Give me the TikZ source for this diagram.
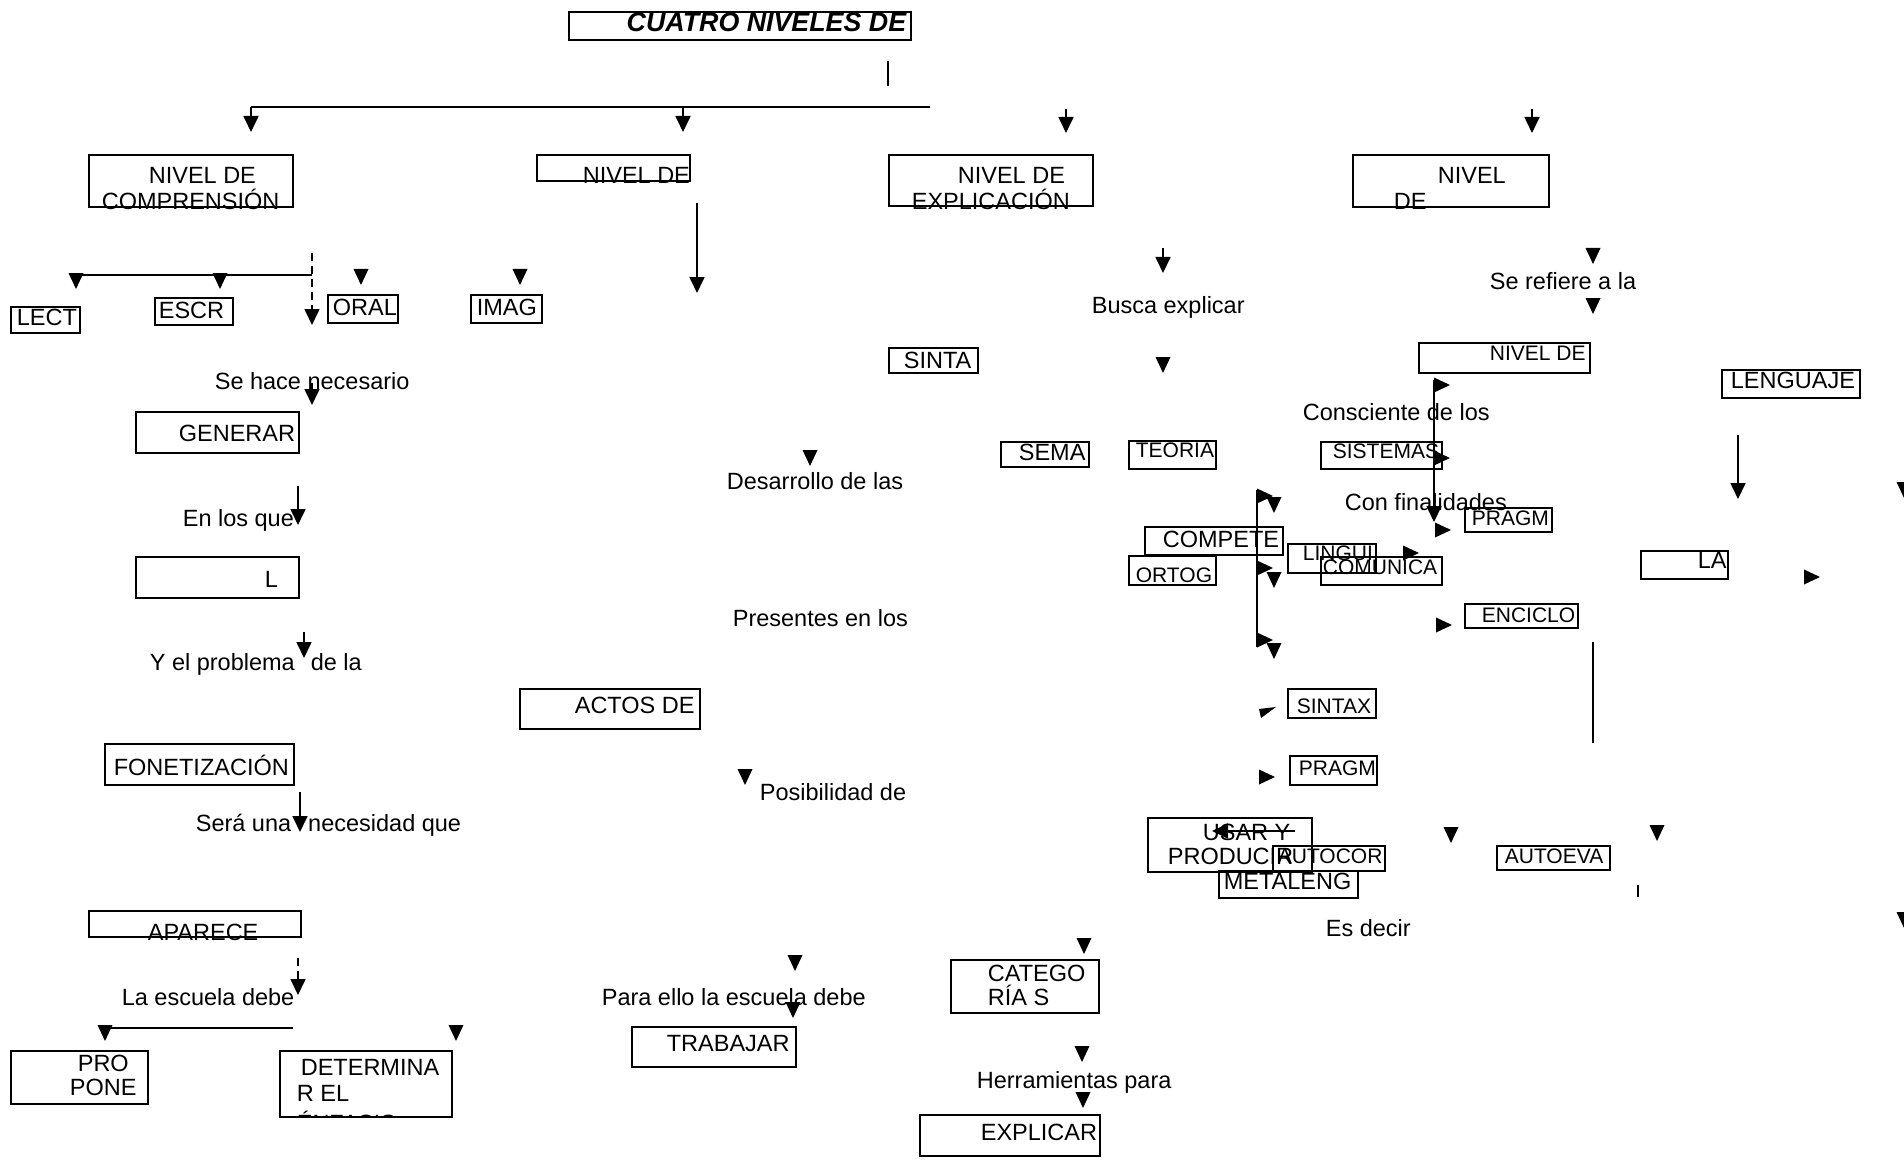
\documentclass[tikz,border=0pt]{standalone}
\usepackage{fontspec}
\setmainfont{Liberation Sans}
\usetikzlibrary{arrows.meta,fit}
\begin{document}
\begin{tikzpicture}[x=1pt,y=-1pt, line width=1.7pt,
 >={Triangle[width=15pt,length=16pt]},
 bx/.style={draw, line width=1.9pt, inner sep=0pt},
 tL/.style={inner sep=0pt, anchor=base west, font=\fontsize{23.5}{26}\selectfont},
 tS/.style={inner sep=0pt, anchor=base west, font=\fontsize{21}{24}\selectfont},
 tridown/.pic={\fill (-7.5,0) -- (7.5,0) -- (0,16) -- cycle;},
 triright/.pic={\fill (0,-7.5) -- (0,7.5) -- (16,0) -- cycle;},
 dsh/.style={dash pattern=on 8pt off 5pt}]
\useasboundingbox (0,0) rectangle (1904,1161);

% ---------- boxes ----------
\node[bx, fit={(569,12) (911,40)}] (title) {};
\node[bx, fit={(89,155) (293,207)}] (bComp) {};
\node[bx, fit={(537,155) (690,181)}] (bN2) {};
\node[bx, fit={(889,155) (1093,206)}] (bExp) {};
\node[bx, fit={(1353,155) (1549,207)}] (bN4) {};
\node[bx, fit={(11,307) (80,333)}] (bLect) {};
\node[bx, fit={(155,298) (233,325)}] (bEscr) {};
\node[bx, fit={(328,295) (398,323)}] (bOral) {};
\node[bx, fit={(471,295) (542,323)}] (bImag) {};
\node[bx, fit={(889,348) (978,373)}] (bSinta) {};
\node[bx, fit={(136,412) (299,453)}] (bGen) {};
\node[bx, fit={(136,557) (299,598)}] (bL) {};
\node[bx, fit={(520,689) (700,729)}] (bActos) {};
\node[bx, fit={(105,744) (294,785)}] (bFon) {};
\node[bx, fit={(89,911) (301,937)}] (bApa) {};
\node[bx, fit={(11,1051) (148,1104)}] (bPro) {};
\node[bx, fit={(280,1051) (452,1117)}] (bDet) {};
\node[bx, fit={(632,1027) (796,1067)}] (bTrab) {};
\node[bx, fit={(1419,343) (1590,373)}] (bNivR) {};
\node[bx, fit={(1722,370) (1860,398)}] (bLeng) {};
\node[bx, fit={(1641,551) (1728,579)}] (bLa) {};
\node[bx, fit={(1001,442) (1089,467)}] (bSema) {};
\node[bx, fit={(1129,441) (1216,469)}] (bTeor) {};
\node[bx, fit={(1321,442) (1442,469)}] (bSist) {};
\node[bx, fit={(1465,508) (1552,532)}] (bPrag1) {};
\node[bx, fit={(1145,527) (1283,555)}] (bComp2) {};
\node[bx, fit={(1129,556) (1216,585)}] (bOrt) {};
\node[bx, fit={(1288,544) (1376,573)}] (bLing) {};
\node[bx, fit={(1321,557) (1442,585)}] (bComu) {};
\node[bx, fit={(1465,604) (1578,628)}] (bEnc) {};
\node[bx, fit={(1288,689) (1376,718)}] (bSintax) {};
\node[bx, fit={(1290,756) (1377,785)}] (bPrag2) {};
\node[bx, fit={(1148,818) (1312,872)}] (bUsar) {};
\node[bx, fit={(1273,846) (1385,871)}] (bAuto) {};
\node[bx, fit={(1219,871) (1358,898)}] (bMeta) {};
\node[bx, fit={(1497,846) (1610,870)}] (bAutoe) {};
\node[bx, fit={(951,960) (1099,1013)}] (bCat) {};
\node[bx, fit={(920,1115) (1100,1156)}] (bExpl) {};

% ---------- texts ----------
\node[inner sep=0pt, anchor=base east, font=\fontsize{26.8}{29}\selectfont\bfseries\itshape] (tTitle) at (907,32) {CUATRO NIVELES DE};
\node[tL] (t1) at (148,184) {NIVEL DE};
\node[tL] (t2) at (101,210) {COMPRENSIÓN};
\node[tL] (t3) at (582,184) {NIVEL DE};
\node[tL] (t4) at (957,184) {NIVEL DE};
\node[tL] (t5) at (911,210) {EXPLICACIÓN};
\node[tL] (t6) at (1437,184) {NIVEL};
\node[tL] (t7) at (1393,210) {DE};
\node[tL] (t8) at (16,325) {LECT};
\node[tL] (t9) at (158,318) {ESCR};
\node[tL] (t10) at (332,315) {ORAL};
\node[tL] (t11) at (476,315) {IMAG};
\node[tL] (t12) at (903,368) {SINTA};
\node[tL] (t13) at (214,389) {Se hace necesario};
\node[tL] (t14) at (178,441) {GENERAR};
\node[tL] (t15) at (182,526) {En los que};
\node[tL] (t16) at (264,587) {L};
\node[tL] (t17) at (149,670) {Y el problema\hspace{16pt}de la};
\node[tL] (t18) at (574,713) {ACTOS DE};
\node[tL] (t19) at (113,775) {FONETIZACIÓN};
\node[tL] (t20) at (195,831) {Será una\hspace{17pt}necesidad que};
\node[tL] (t21) at (147,940) {APARECE};
\node[tL] (t22) at (121,1005) {La escuela debe};
\node[tL] (t23) at (77,1071) {PRO};
\node[tL] (t24) at (69,1095) {PONE};
\node[tL] (t25) at (300,1075) {DETERMINA};
\node[tL] (t26) at (296,1101) {R EL};
\begin{scope}
\clip (280,1051) rectangle (452,1117);
\node[tL] (t27) at (296,1131) {ÉNFASIS};
\end{scope}
\node[tL] (t28) at (726,489) {Desarrollo de las};
\node[tL] (t29) at (732,626) {Presentes en los};
\node[tL] (t30) at (759,800) {Posibilidad de};
\node[tL] (t31) at (601,1005) {Para ello la escuela debe};
\node[tL] (t32) at (666,1051) {TRABAJAR};
\node[tL] (t33) at (1091,313) {Busca explicar};
\node[tL] (t34) at (1489,289) {Se refiere a la};
\node[tL] (t35) at (1730,388) {LENGUAJE};
\node[tL] (t36) at (1697,568) {LA};
\node[tL] (t37) at (1302,420) {Consciente de los};
\node[tL] (t38) at (1018,460) {SEMA};
\node[tL] (t39) at (1344,510) {Con finalidades};
\node[tL] (t40) at (1162,547) {COMPETE};
\node[tL] (t41) at (1202,840) {USAR Y};
\node[tL] (t42) at (1167,864) {PRODUCIR};
\node[tL] (t43) at (1223,889) {METALENG};
\node[tL] (t44) at (1325,936) {Es decir};
\node[tL] (t45) at (987,981) {CATEGO};
\node[tL] (t46) at (987,1005) {RÍA S};
\node[tL] (t47) at (976,1088) {Herramientas para};
\node[tL] (t48) at (980,1140) {EXPLICAR};
\node[tS] (s1) at (1489,360) {NIVEL DE};
\node[tS] (s2) at (1135,457) {TEORIA};
\node[tS] (s3) at (1332,458) {SISTEMAS};
\node[tS] (s4) at (1471,525) {PRAGM};
\node[tS] (s5) at (1135,582) {ORTOG};
\node[tS] (s6) at (1302,560) {LINGUI};
\node[tS] (s7) at (1322,574) {COMUNICA};
\node[tS] (s8) at (1481,622) {ENCICLO};
\node[tS] (s9) at (1296,713) {SINTAX};
\node[tS] (s10) at (1298,775) {PRAGM};
\node[tS] (s11) at (1277,863) {AUTOCOR};
\node[tS] (s12) at (1504,863) {AUTOEVA};

% ---------- connectors ----------
\coordinate (top1) at (888,61); \coordinate (top2) at (888,86);
\draw (top1) -- (top2);
\coordinate (hR) at (930,107); \coordinate (hL) at (251,107); \coordinate (hM) at (683,107);
\draw (hR) -- (hL);
\draw[->] (hL) -- (251,132);
\draw[->] (hM) -- (683,132);
\draw[->] (1066,109) -- (1066,133);
\draw[->] (1532,109) -- (1532,133);

% comprension branch
\draw (312,275) -- (76,275);
\pic at (76,273) {tridown};
\pic at (220,273) {tridown};
\draw[dsh,->] (312,253) -- (312,325);
\pic at (361,269) {tridown};
\pic at (520,269) {tridown};
\draw[->] (312,383) -- (312,405);
\draw[->] (697,203) -- (697,293);
\draw[->] (298,486) -- (298,525);
\draw[->] (304,632) -- (304,658);
\draw[->] (300,792) -- (300,832);
\draw[dsh,->] (298,958) -- (298,995);
\draw (293,1028) -- (105,1028);
\pic at (105,1025) {tridown};
\pic at (456,1025) {tridown};

% middle
\pic at (810,450) {tridown};
\pic at (745,769) {tridown};
\pic at (795,955) {tridown};
\pic at (793,1002) {tridown};

% explicacion branch
\draw[->] (1163,248) -- (1163,273);
\pic at (1163,357) {tridown};
\pic at (1084,938) {tridown};
\pic at (1082,1046) {tridown};
\pic at (1083,1092) {tridown};

% right branch
\pic at (1593,248) {tridown};
\pic at (1593,298) {tridown};
\draw[->] (1738,435) -- (1738,499);
\pic at (1904,482) {tridown};
\pic at (1904,912) {tridown};
\pic at (1804,577) {triright};

\draw[->] (1434,380) -- (1434,522);
\pic at (1434,385) {triright};
\pic at (1434,458) {triright};
\pic at (1435,530) {triright};
\pic at (1403,553) {triright};
\pic at (1436,625) {triright};

\draw (1257,490) -- (1257,647);
\pic at (1257,496) {triright};
\pic at (1257,568) {triright};
\pic at (1257,640) {triright};
\pic at (1274,497) {tridown};
\pic at (1274,572) {tridown};
\pic at (1274,643) {tridown};

\draw (1593,642) -- (1593,743);
\fill (1259,709) -- (1276,707) -- (1261,718) -- cycle;
\pic at (1259,777) {triright};
\draw[->] (1295,831) -- (1212,831);
\pic at (1451,827) {tridown};
\pic at (1657,825) {tridown};
\draw (1638,885) -- (1638,897);
\end{tikzpicture}
\end{document}
